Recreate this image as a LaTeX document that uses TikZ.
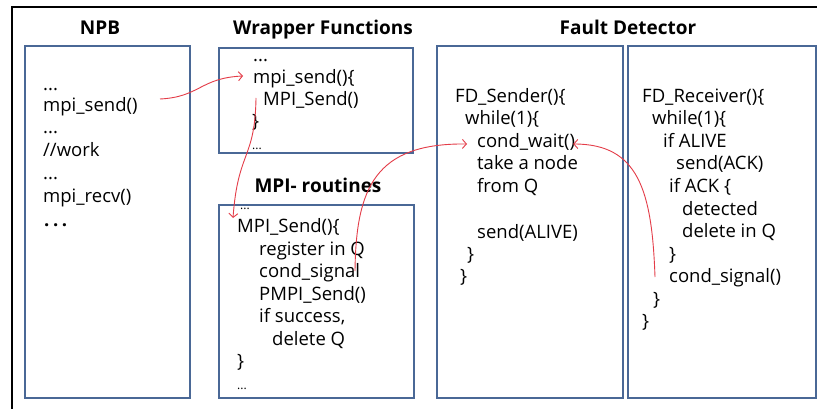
\documentclass[tikz,border=0pt]{standalone}
\usepackage{fontspec}
\setmainfont{Open Sans}
\usetikzlibrary{arrows.meta}
\definecolor{boxblue}{RGB}{74,104,150}
\definecolor{linkred}{RGB}{228,60,72}

\begin{document}
\begin{tikzpicture}[x=1pt,y=-1pt,
  panel/.style={draw=boxblue, line width=1.2pt, inner sep=0pt},
  heading/.style={anchor=base, inner sep=0pt, font=\fontsize{19}{22}\selectfont\bfseries},
  code/.style={anchor=base west, inner sep=0pt, text height=14pt, text depth=4pt, font=\fontsize{18.5}{22}\selectfont},
  tinydots/.style={anchor=base west, inner sep=0pt, font=\fontsize{12}{14}\selectfont},
  link/.style={draw=linkred, line width=0.9pt, -{Straight Barb[length=4pt,width=9pt]}}]

\useasboundingbox (0,0) rectangle (817,409);
\fill[white] (0,0) rectangle (817,409);

% outer frame (only its top and left edges fall inside the page)
\draw[line width=2.5pt] (12,409) -- (12,7) -- (817,7);

% panels
\node[panel, minimum width=165pt, minimum height=352pt] (npb)  at (107.5,222) {};
\node[panel, minimum width=194pt, minimum height=105pt] (wrap) at (316,100.5) {};
\node[panel, minimum width=195pt, minimum height=193pt] (mpi)  at (316.5,301.5) {};
\node[panel, minimum width=186pt, minimum height=352pt] (fds)  at (530,222) {};
\node[panel, minimum width=188pt, minimum height=352pt] (fdr)  at (722,222) {};

% headings
\node[heading] (hnpb)  at (100,35)  {NPB};
\node[heading] (hwrap) at (323,35)  {Wrapper Functions};
\node[heading] (hmpi)  at (318,193) {MPI- routines};
\node[heading] (hfd)   at (628,35)  {Fault Detector};

% NPB code
\node[code] (n1) at (43,91)  {...};
\node[code] (npbsend) at (43,112) {mpi\_send()};
\node[code] (n3) at (43,134) {...};
\node[code] (n4) at (43,157) {//work};
\node[code] (n5) at (43,179) {...};
\node[code] (n6) at (43,203) {mpi\_recv()};
\node[code] (n7) at (44,226) {\bfseries .\hspace{3.6pt}.\hspace{3.6pt}.};

% wrapper functions
\node[code] (w1) at (253,62)  {...};
\node[code] (wsend) at (253,84) {mpi\_send()\{};
\node[code] (wcall) at (263,106) {MPI\_Send()};
\node[code] (w4) at (252,128) {\}};
\node[tinydots] (w5) at (252,150) {...};

% MPI routines
\node[tinydots] (m1) at (240,210) {...};
\node[code] (msend) at (237,233) {MPI\_Send()\{};
\node[code] (m3) at (259,255) {register in Q};
\node[code] (msig) at (259,277) {cond\_signal};
\node[code] (m5) at (259,300) {PMPI\_Send()};
\node[code] (m6) at (259,322) {if success,};
\node[code] (m7) at (272,345) {delete Q};
\node[code] (m8) at (237,367) {\}};
\node[tinydots] (m9) at (237,389) {...};

% FD sender
\node[code] (s1) at (455,103) {FD\_Sender()\{};
\node[code] (s2) at (465,125) {while(1)\{};
\node[code] (swait) at (477,148) {cond\_wait()};
\node[code] (s4) at (477,170) {take a node};
\node[code] (s5) at (477,193) {from Q};
\node[code] (s6) at (477,238) {send(ALIVE)};
\node[code] (s7) at (467,260) {\}};
\node[code] (s8) at (460,282) {\}};

% FD receiver
\node[code] (r1) at (642,103) {FD\_Receiver()\{};
\node[code] (r2) at (652,125) {while(1)\{};
\node[code] (r3) at (663,148) {if ALIVE};
\node[code] (r4) at (676,170) {send(ACK)};
\node[code] (r5) at (669,193) {if ACK \{};
\node[code] (r6) at (682,215) {detected};
\node[code] (r7) at (682,237) {delete in Q};
\node[code] (r8) at (669,260) {\}};
\node[code] (rsig) at (669,282) {cond\_signal()};
\node[code] (r10) at (653,305) {\}};
\node[code] (r11) at (642,327) {\}};

% call flow
\draw[link] ([xshift=117pt,yshift=8pt]npbsend.west)
  .. controls +(40,-2) and +(-43,2) .. ([xshift=-10pt,yshift=3pt]wsend.west);
\draw[link] ([xshift=-7pt,yshift=3pt]wcall.west)
  .. controls +(-1,62) and +(5,-68) .. ([xshift=-4pt,yshift=10pt]msend.west);
\draw[link] ([xshift=96pt,yshift=1pt]msig.west)
  .. controls +(1,-83) and +(-92,-1) .. ([xshift=-10pt,yshift=-1pt]swait.west);
\draw[link] ([xshift=-14pt]rsig.west)
  .. controls +(-3,-87) and +(65,0) .. ([xshift=-2pt,yshift=-1pt]swait.east);
\end{tikzpicture}
\end{document}
